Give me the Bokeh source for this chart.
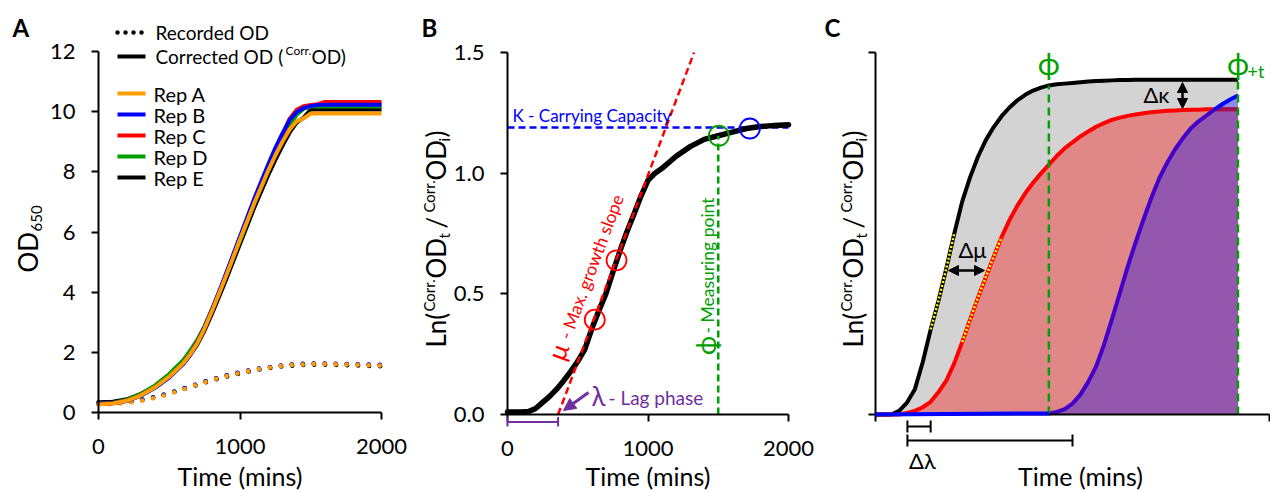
import math
import numpy as np
from bokeh.plotting import figure
from bokeh.layouts import row
from bokeh.models import (Range1d, Label, Arrow, NormalHead, FixedTicker,
                          NumeralTickFormatter, CustomJSTickFormatter)
from bokeh.embed import file_html
from bokeh.resources import INLINE

FONT = "Lato"
H = 490

# ---------------- Panel A data (OD650 vs time) ----------------
rep_names = ["Rep A", "Rep B", "Rep C", "Rep D", "Rep E"]
rep_colors = ["#FF9D00", "#0000FF", "#FF0000", "#00A000", "#000000"]

t_corr = [0, 100, 200, 300, 400, 500, 600, 650, 700, 750, 800, 850, 900, 1000, 1100,
          1200, 1250, 1300, 1350, 1400, 1450, 1500, 1550, 1600, 1700, 1800, 1900, 2000]
corr_a = [0.27, 0.30, 0.39, 0.57, 0.84, 1.19, 1.64, 1.95, 2.32, 2.80, 3.35, 3.93, 4.52,
          5.75, 6.95, 8.05, 8.55, 9.00, 9.40, 9.68, 9.78, 9.94, 9.94, 9.94, 9.94, 9.94,
          9.94, 9.94]
corr_b = [0.29, 0.31, 0.38, 0.56, 0.82, 1.16, 1.62, 1.94, 2.33, 2.83, 3.38, 3.98, 4.60,
          5.85, 7.10, 8.25, 8.80, 9.28, 9.72, 9.98, 10.12, 10.19, 10.22, 10.23, 10.23,
          10.23, 10.23, 10.23]
corr_c = [0.29, 0.31, 0.39, 0.57, 0.84, 1.19, 1.64, 1.96, 2.35, 2.84, 3.40, 3.98, 4.58,
          5.80, 7.05, 8.20, 8.72, 9.22, 9.76, 10.06, 10.18, 10.22, 10.25, 10.32, 10.32,
          10.32, 10.32, 10.32]
corr_d = [0.30, 0.32, 0.42, 0.62, 0.90, 1.28, 1.75, 2.07, 2.43, 2.88, 3.41, 3.97, 4.54,
          5.72, 6.95, 8.05, 8.58, 9.06, 9.52, 9.90, 10.10, 10.17, 10.17, 10.17, 10.17,
          10.17, 10.17, 10.17]
corr_e = [0.34, 0.36, 0.44, 0.62, 0.87, 1.21, 1.62, 1.92, 2.27, 2.73, 3.26, 3.82, 4.40,
          5.60, 6.80, 7.90, 8.40, 8.86, 9.30, 9.64, 9.80, 10.07, 10.07, 10.07, 10.07,
          10.07, 10.07, 10.07]

t_rec = [0, 100, 200, 300, 400, 500, 600, 700, 800, 900, 1000,
         1100, 1200, 1300, 1400, 1500, 1600, 1700, 1800, 1900, 2000]
rec_a = [0.27, 0.28, 0.32, 0.39, 0.49, 0.62, 0.77, 0.93, 1.08, 1.21, 1.32,
         1.42, 1.49, 1.55, 1.59, 1.61, 1.61, 1.60, 1.59, 1.57, 1.56]
rec_b = [0.29, 0.30, 0.34, 0.41, 0.51, 0.64, 0.79, 0.95, 1.10, 1.23, 1.34,
         1.44, 1.51, 1.57, 1.61, 1.63, 1.63, 1.62, 1.61, 1.60, 1.59]
rec_c = [0.29, 0.30, 0.33, 0.40, 0.50, 0.63, 0.78, 0.94, 1.09, 1.22, 1.33,
         1.43, 1.50, 1.56, 1.60, 1.62, 1.62, 1.61, 1.60, 1.59, 1.58]
rec_d = [0.30, 0.31, 0.35, 0.42, 0.52, 0.65, 0.80, 0.95, 1.10, 1.22, 1.33,
         1.43, 1.50, 1.56, 1.60, 1.62, 1.62, 1.61, 1.60, 1.58, 1.57]
rec_e = [0.34, 0.35, 0.37, 0.42, 0.51, 0.63, 0.77, 0.92, 1.06, 1.19, 1.30,
         1.40, 1.47, 1.53, 1.57, 1.59, 1.59, 1.58, 1.57, 1.55, 1.54]

A_xticks = [0, 1000, 2000]
A_yticks = [0, 2, 4, 6, 8, 10, 12]

# ---------------- Panel B data (ln OD ratio) ----------------
t_ln = [0, 50, 100, 150, 200, 250, 300, 350, 400, 450, 500, 550, 600, 650, 700, 750,
        800, 850, 900, 950, 1000, 1050, 1100, 1200, 1300, 1400, 1500, 1600, 1700,
        1800, 1900, 2000]
ln_od = [0.01, 0.01, 0.01, 0.012, 0.025, 0.05, 0.075, 0.105, 0.14, 0.179, 0.22, 0.27,
         0.355, 0.43, 0.50, 0.59, 0.677, 0.757, 0.83, 0.905, 0.97, 1.0, 1.02, 1.07,
         1.11, 1.14, 1.155, 1.17, 1.185, 1.193, 1.198, 1.201]
lag_B = 360          # lambda (min)
mu_B = 0.00155       # max slope (per min)
K_B = 1.189          # carrying capacity
phi_B = 1500         # measuring point (min)
phi_val_B = 1.155
mu_pts_t = [621, 776]
mu_pts_y = [0.393, 0.639]
phi_pt_t, phi_pt_y = [1504], [1.155]
K_pt_t, K_pt_y = [1725], [1.185]
B_xticks = [0, 1000, 2000]
B_yticks = [0, 0.5, 1.0, 1.5]

# ---------------- Panel C data (schematic curves) ----------------
x_c = [0, 4, 6, 8, 10, 12, 14, 16, 18, 20, 22, 24, 26, 28, 30, 32, 34, 36, 38, 40,
       42, 44, 46, 48, 50, 52, 54, 56, 58, 60, 62, 64, 66, 68, 70, 72, 74, 76, 78,
       80, 82, 84, 86, 88, 90, 92]
c_black = [0, 0, 0.01, 0.033, 0.07, 0.145, 0.235, 0.315, 0.405, 0.50, 0.588, 0.655,
           0.712, 0.758, 0.794, 0.824, 0.848, 0.868, 0.883, 0.895, 0.903, 0.909, 0.912,
           0.914, 0.916, 0.918, 0.920, 0.921, 0.922, 0.923, 0.924, 0.924, 0.925, 0.925,
           0.925, 0.925, 0.925, 0.925, 0.925, 0.925, 0.925, 0.925, 0.925, 0.925, 0.925,
           0.925]
c_red = [0, 0, 0, 0.004, 0.01, 0.02, 0.035, 0.062, 0.094, 0.142, 0.20, 0.262, 0.323,
         0.380, 0.436, 0.490, 0.537, 0.577, 0.611, 0.640, 0.666, 0.690, 0.714, 0.735,
         0.752, 0.768, 0.782, 0.795, 0.805, 0.814, 0.820, 0.825, 0.829, 0.832, 0.835,
         0.837, 0.839, 0.840, 0.841, 0.842, 0.842, 0.843, 0.843, 0.843, 0.843, 0.843]
c_blue = [0, 0, 0, 0, 0, 0, 0, 0, 0, 0, 0, 0, 0, 0, 0, 0, 0, 0, 0, 0, 0, 0.003, 0.007,
          0.015, 0.03, 0.055, 0.09, 0.133, 0.193, 0.263, 0.335, 0.408, 0.475, 0.538,
          0.598, 0.652, 0.695, 0.732, 0.763, 0.790, 0.810, 0.826, 0.842, 0.857, 0.870,
          0.881]
lag_c = [8.1, 14.0, 50.0]   # lag of black, red, blue
phi_c = 44
phi_t_c = 92

GREEN = "#00A000"
PURPLE = "#7030A0"

# canvas extents on the page (x)
A_X0, A_X1 = 0, 415
B_X0, B_X1 = 415, 815
C_X0, C_X1 = 815, 1270


# page pixel -> data coordinate helpers
def ax_(px):
    return (px - 98) * 2000 / 283


def ay_(py):
    return (412 - py) * 12 / 361


def bx_(px):
    return (px - 507) * 2000 / 281


def by_(py):
    return (414 - py) * 1.5 / 362


def cx_(px):
    return (px - 875) * 100 / 394


def cy_(py):
    return (414 - py) / 362


def make_fig(x0, x1, fx, fy, xb, yb):
    p = figure(width=x1 - x0, height=H,
               x_range=Range1d(fx(x0), fx(x1)), y_range=Range1d(fy(H), fy(0)),
               output_backend="svg", toolbar_location=None, title=None,
               min_border=0)
    p.grid.visible = False
    p.outline_line_color = None
    p.xaxis.fixed_location = 0
    p.yaxis.fixed_location = 0
    p.xaxis.bounds = xb
    p.yaxis.bounds = yb
    for ax in p.axis:
        ax.axis_line_width = 2
        ax.axis_line_color = "black"
        ax.major_tick_line_width = 2
        ax.major_tick_line_color = "black"
        ax.major_tick_out = 7
        ax.major_tick_in = 0
        ax.minor_tick_line_color = None
        ax.major_label_text_font = FONT
        ax.major_label_text_font_size = "22px"
        ax.major_label_text_color = "black"
    p.xaxis.major_label_standoff = 19
    p.yaxis.major_label_standoff = 16
    return p


def lab(p, x, y, text, size, color="black", align="left", baseline="middle",
        angle=0.0, bold=False):
    p.add_layout(Label(x=x, y=y, text=text, text_font=FONT,
                       text_font_size=f"{size}px", text_color=color,
                       text_align=align, text_baseline=baseline, angle=angle,
                       text_font_style="bold" if bold else "normal"))


def seg(p, x0, y0, x1, y1, color, width, dash="solid", cap="butt"):
    p.add_layout(Arrow(x_start=x0, y_start=y0, x_end=x1, y_end=y1, start=None,
                       end=None, line_color=color, line_width=width,
                       line_dash=dash, line_cap=cap))


LN_PIECES = [("Ln(", 0, 347, 26), ("Corr.", -7, 311, 15), ("OD", 0, 278, 26),
             ("t", 8, 238, 15), ("/", 0, 228, 26), ("Corr.", -7, 212, 15),
             ("OD", 0, 180, 26), ("i", 8, 141, 15), (")", 0, 137, 26)]


def ln_ylabel(p, fx, fy, xc):
    for text, dx, ys, size in LN_PIECES:
        lab(p, fx(xc + dx), fy(ys), text, size, angle=math.pi / 2)


# ---------------- Panel A ----------------
pA = make_fig(A_X0, A_X1, ax_, ay_, (0, 2000), (0, 12))
pA.xaxis.ticker = FixedTicker(ticks=A_xticks)
pA.yaxis.ticker = FixedTicker(ticks=A_yticks)

corr_all = [corr_a, corr_b, corr_c, corr_d, corr_e]
rec_all = [rec_a, rec_b, rec_c, rec_d, rec_e]
for i in [4, 3, 2, 1, 0]:
    pA.line(t_rec, rec_all[i], line_color=rep_colors[i], line_width=4.5,
            line_dash="0 11", line_cap="round")
for i in [4, 3, 2, 1, 0]:
    pA.line(t_corr, corr_all[i], line_color=rep_colors[i], line_width=4,
            line_join="round")

# legend
seg(pA, ax_(117), ay_(32), ax_(145), ay_(32), "black", 4.5, dash="0 8", cap="round")
lab(pA, ax_(155), ay_(32), "Recorded OD", 19)
seg(pA, ax_(117), ay_(56), ax_(145), ay_(56), "black", 4)
lab(pA, ax_(155), ay_(56), "Corrected OD (", 19)
lab(pA, ax_(285), ay_(50), "Corr.", 12)
lab(pA, ax_(311), ay_(56), "OD)", 19)
rows_y = [93, 114, 135, 156, 177]
for name, col, ry in zip(rep_names, rep_colors, rows_y):
    seg(pA, ax_(117), ay_(ry), ax_(145), ay_(ry), col, 4)
    lab(pA, ax_(153), ay_(ry), name, 20)

lab(pA, ax_(27), ay_(272), "OD", 26, angle=math.pi / 2)
lab(pA, ax_(36), ay_(231), "650", 15, angle=math.pi / 2)
lab(pA, 1000, ay_(475), "Time (mins)", 25, align="center")
lab(pA, ax_(12), ay_(27), "A", 24, bold=True)

# ---------------- Panel B ----------------
pB = make_fig(B_X0, B_X1, bx_, by_, (0, 2000), (0, 1.5))
pB.xaxis.ticker = FixedTicker(ticks=B_xticks)
pB.yaxis.ticker = FixedTicker(ticks=B_yticks)
pB.yaxis.formatter = NumeralTickFormatter(format="0.0")

pB.line([0, 2000], [K_B, K_B], line_color="#0000FF", line_width=2.5, line_dash="7 4")
pB.line(t_ln, ln_od, line_color="black", line_width=5.5, line_join="round",
        line_cap="round")
pB.line([lag_B, lag_B + 1.5 / mu_B], [0, 1.5], line_color="#FF0000", line_width=2.5,
        line_dash="7 4")
pB.line([phi_B, phi_B], [0, phi_val_B], line_color=GREEN, line_width=2.5,
        line_dash="7 4")
pB.scatter(mu_pts_t, mu_pts_y, marker="circle", size=20, fill_color=None,
           line_color="#FF0000", line_width=1.8)
pB.scatter(phi_pt_t, phi_pt_y, marker="circle", size=20, fill_color=None,
           line_color=GREEN, line_width=1.8)
pB.scatter(K_pt_t, K_pt_y, marker="circle", size=20, fill_color=None,
           line_color="#0000FF", line_width=1.8)

lab(pB, bx_(512), by_(115), "K - Carrying Capacity", 17, color="#0000FF")
ang = math.radians(69.5)
lab(pB, bx_(557), by_(351), "\u03bc", 26, color="#FF0000", align="center", angle=ang)
lab(pB, bx_(564), by_(338), "- Max. growth slope", 17.5, color="#FF0000", angle=ang)
lab(pB, bx_(705), by_(345), "\u03d5", 26, color=GREEN, align="center",
    angle=math.pi / 2)
lab(pB, bx_(707), by_(333), "- Measuring point", 17.5, color=GREEN, angle=math.pi / 2)
lab(pB, bx_(598), by_(395), "\u03bb", 26, color=PURPLE, align="center")
lab(pB, bx_(608), by_(397), "- Lag phase", 19, color=PURPLE)
pB.add_layout(Arrow(x_start=bx_(588), y_start=by_(392), x_end=bx_(563), y_end=by_(410),
                    end=NormalHead(size=12, fill_color=PURPLE, line_color=PURPLE),
                    line_color=PURPLE, line_width=3))
# lag bracket below axis
yb = by_(421.5)
seg(pB, 0, yb, lag_B, yb, PURPLE, 2)
seg(pB, 0, by_(416.5), 0, by_(426), PURPLE, 2)
seg(pB, lag_B, by_(416.5), lag_B, by_(426), PURPLE, 2)

ln_ylabel(pB, bx_, by_, 435)
lab(pB, 1000, by_(475), "Time (mins)", 25, align="center")
lab(pB, bx_(421), by_(27), "B", 24, bold=True)

# ---------------- Panel C ----------------
pC = make_fig(C_X0, C_X1, cx_, cy_, (0, 100), (0, 1))
pC.xaxis.ticker = FixedTicker(ticks=[0, 100])
pC.yaxis.ticker = FixedTicker(ticks=[0, 1])
pC.xaxis.formatter = CustomJSTickFormatter(code="return ''")
pC.yaxis.formatter = CustomJSTickFormatter(code="return ''")

xc = np.array(x_c)
bk = np.array(c_black)
rd = np.array(c_red)
bl = np.array(c_blue)
pC.varea(x=xc, y1=0, y2=bk, fill_color="#D3D3D3")
pC.varea(x=xc, y1=0, y2=rd, fill_color="#E08787")
pC.varea(x=xc, y1=0, y2=np.minimum(bl, rd), fill_color="#9358AD")
pC.varea(x=xc, y1=rd, y2=np.maximum(bl, rd), fill_color="#8C8CE4")

pC.line(xc, bk, line_color="black", line_width=4, line_join="round")
pC.line(xc, rd, line_color="#FF0000", line_width=4, line_join="round")
i44 = x_c.index(44)
i86 = x_c.index(86)
pC.line(xc[i86:], rd[i86:], line_color="#A0105A", line_width=4)
pC.line(xc[i44:i86 + 1], bl[i44:i86 + 1], line_color="#4400C8", line_width=4,
        line_join="round")
pC.line(xc[i86:], bl[i86:], line_color="#0000FF", line_width=4)
# flat (lag) part of the blue curve, drawn above the axis line
seg(pC, xc[0], bl[0], xc[i44], bl[i44], "#0000FF", 4)

# max-slope dotted overlays
i14, i22, i32 = x_c.index(14), x_c.index(22), x_c.index(32)
pC.line(xc[i14:i22], bk[i14:i22], line_color="#FFFF00", line_width=2.5, line_dash="2 2")
pC.line(xc[i22:i32 + 1], rd[i22:i32 + 1], line_color="#FFFF00", line_width=2.5,
        line_dash="2 2")

# measuring points
pC.line([phi_c, phi_c], [0, bk[i44]], line_color=GREEN, line_width=2.5, line_dash="8 5")
pC.line([phi_t_c, phi_t_c], [0, bk[-1]], line_color=GREEN, line_width=2.5,
        line_dash="8 5")

lab(pC, phi_c, cy_(62), "\u03d5", 30, color=GREEN, align="center")
lab(pC, phi_t_c, cy_(62), "\u03d5", 30, color=GREEN, align="center")
lab(pC, cx_(1247), cy_(70), "+t", 18, color=GREEN)

head = dict(size=10, fill_color="black", line_color="black")
pC.add_layout(Arrow(x_start=cx_(948), y_start=cy_(270), x_end=cx_(984), y_end=cy_(270),
                    start=NormalHead(**head), end=NormalHead(**head),
                    line_color="black", line_width=2.5))
lab(pC, cx_(972), cy_(249), "\u0394\u03bc", 22, align="center")
pC.add_layout(Arrow(x_start=cx_(1182), y_start=cy_(82), x_end=cx_(1182), y_end=cy_(108),
                    start=NormalHead(**head), end=NormalHead(**head),
                    line_color="black", line_width=2.5))
lab(pC, cx_(1156), cy_(94), "\u0394\u03ba", 22, align="center")

# lag brackets
for (xe, py) in [(lag_c[1], 426), (lag_c[2], 440)]:
    seg(pC, lag_c[0], cy_(py), xe, cy_(py), "black", 2)
    seg(pC, lag_c[0], cy_(py - 6), lag_c[0], cy_(py + 6), "black", 2)
    seg(pC, xe, cy_(py - 6), xe, cy_(py + 6), "black", 2)
lab(pC, cx_(922), cy_(460), "\u0394\u03bb", 22, align="center")

ln_ylabel(pC, cx_, cy_, 852)
lab(pC, cx_(1080), cy_(475), "Time (mins)", 25, align="center")
lab(pC, cx_(824), cy_(27), "C", 24, bold=True)

layout = row(pA, pB, pC)
open("out.html", "w").write(file_html(layout, INLINE))
